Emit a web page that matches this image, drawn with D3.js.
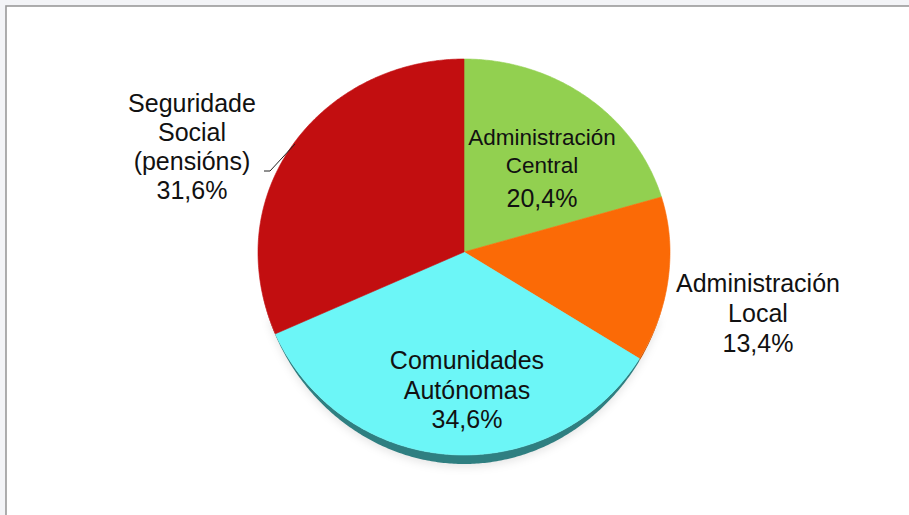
<!DOCTYPE html>
<html><head><meta charset="utf-8">
<script src="https://cdn.jsdelivr.net/npm/d3@7"></script>
<style>
html,body{margin:0;padding:0;background:#f3f4f7;}
svg{display:block;}
text{font-family:"Liberation Sans",Arial,sans-serif;fill:#111;}
</style></head>
<body>
<svg id="chart" width="909" height="515"></svg>
<script>
const categories = ["Administración Central","Administración Local","Comunidades Autónomas","Seguridade Social (pensións)"];
const values = [20.4, 13.4, 34.6, 31.6];
const valueLabels = ["20,4%","13,4%","34,6%","31,6%"];
const nameLines = [["Administración","Central"],["Administración","Local"],["Comunidades","Autónomas"],["Seguridade","Social","(pensións)"]];
const colors = ["#92d050","#fb6a06","#6cf6f7","#c20e10"];
const sideColors = ["#5f8a30","#c45200","#2f7f81","#9a0c0c"];

const svg = d3.select("#chart");
svg.append("rect").attr("x",6).attr("y",6).attr("width",910).attr("height",520)
  .attr("fill","#fff").attr("stroke","#9a9a9a").attr("stroke-width",1.6);

const cx = 464, cy = 252, rx = 206, ryT = 193, ryB = 203, depth = 9;
function pt(a, side=false){
  const c = Math.cos(a), s = Math.sin(a);
  const dy = side ? depth*Math.pow(Math.max(0,-c),2) : 0;
  return [cx + rx*s, cy - (c>0?ryT:ryB)*c + dy];
}
const pie = d3.pie().sort(null).value(d=>d)(values);

const defs = svg.append("defs");
const f = defs.append("filter").attr("id","sh").attr("x","-20%").attr("y","-20%").attr("width","140%").attr("height","140%");
f.append("feGaussianBlur").attr("stdDeviation",4);

function arcPoints(a0,a1,side){
  const n = Math.max(2, Math.ceil((a1-a0)/0.01));
  return d3.range(n+1).map(i=>pt(a0+(a1-a0)*i/n,side));
}
const line = d3.line();

// soft shadow
svg.append("path").attr("d", line(arcPoints(Math.PI*0.6, Math.PI*1.4, true).map(p=>[p[0],p[1]+3]))+"Z")
  .attr("fill","rgba(0,0,0,0.10)").attr("filter","url(#sh)");

// sides
pie.forEach((d,i)=>{
  const a0 = Math.max(d.startAngle, Math.PI/2), a1 = Math.min(d.endAngle, Math.PI*1.5);
  if (a1<=a0) return;
  const top = arcPoints(a0,a1,false), bot = arcPoints(a0,a1,true).reverse();
  svg.append("path").attr("d", line(top.concat(bot))+"Z").attr("fill", sideColors[i]);
});

// top faces
pie.forEach((d,i)=>{
  const pts = [[cx,cy]].concat(arcPoints(d.startAngle,d.endAngle,false));
  svg.append("path").attr("d", line(pts)+"Z").attr("fill", colors[i])
    .attr("stroke", colors[i]).attr("stroke-width",0.6);
});

// labels
const labelPos = [
  {x:542, ys:[145,173], py:207, ns:22.5, ps:25},
  {x:758, ys:[292,322], py:352, ns:25, ps:25},
  {x:467, ys:[369,399], py:428, ns:25, ps:25},
  {x:192, ys:[112,141,170], py:199, ns:25, ps:25}
];
labelPos.forEach((p,i)=>{
  nameLines[i].forEach((t,j)=>{
    svg.append("text").attr("x",p.x).attr("y",p.ys[j]).attr("text-anchor","middle")
      .attr("font-size",p.ns).text(t);
  });
  svg.append("text").attr("x",p.x).attr("y",p.py).attr("text-anchor","middle")
    .attr("font-size",p.ps).text(valueLabels[i]);
});

// leader line for Seguridade Social
svg.append("path").attr("d", line([[264,171],[270,171],[295,144]]))
  .attr("fill","none").attr("stroke","#222").attr("stroke-width",1);
</script>
</body></html>
